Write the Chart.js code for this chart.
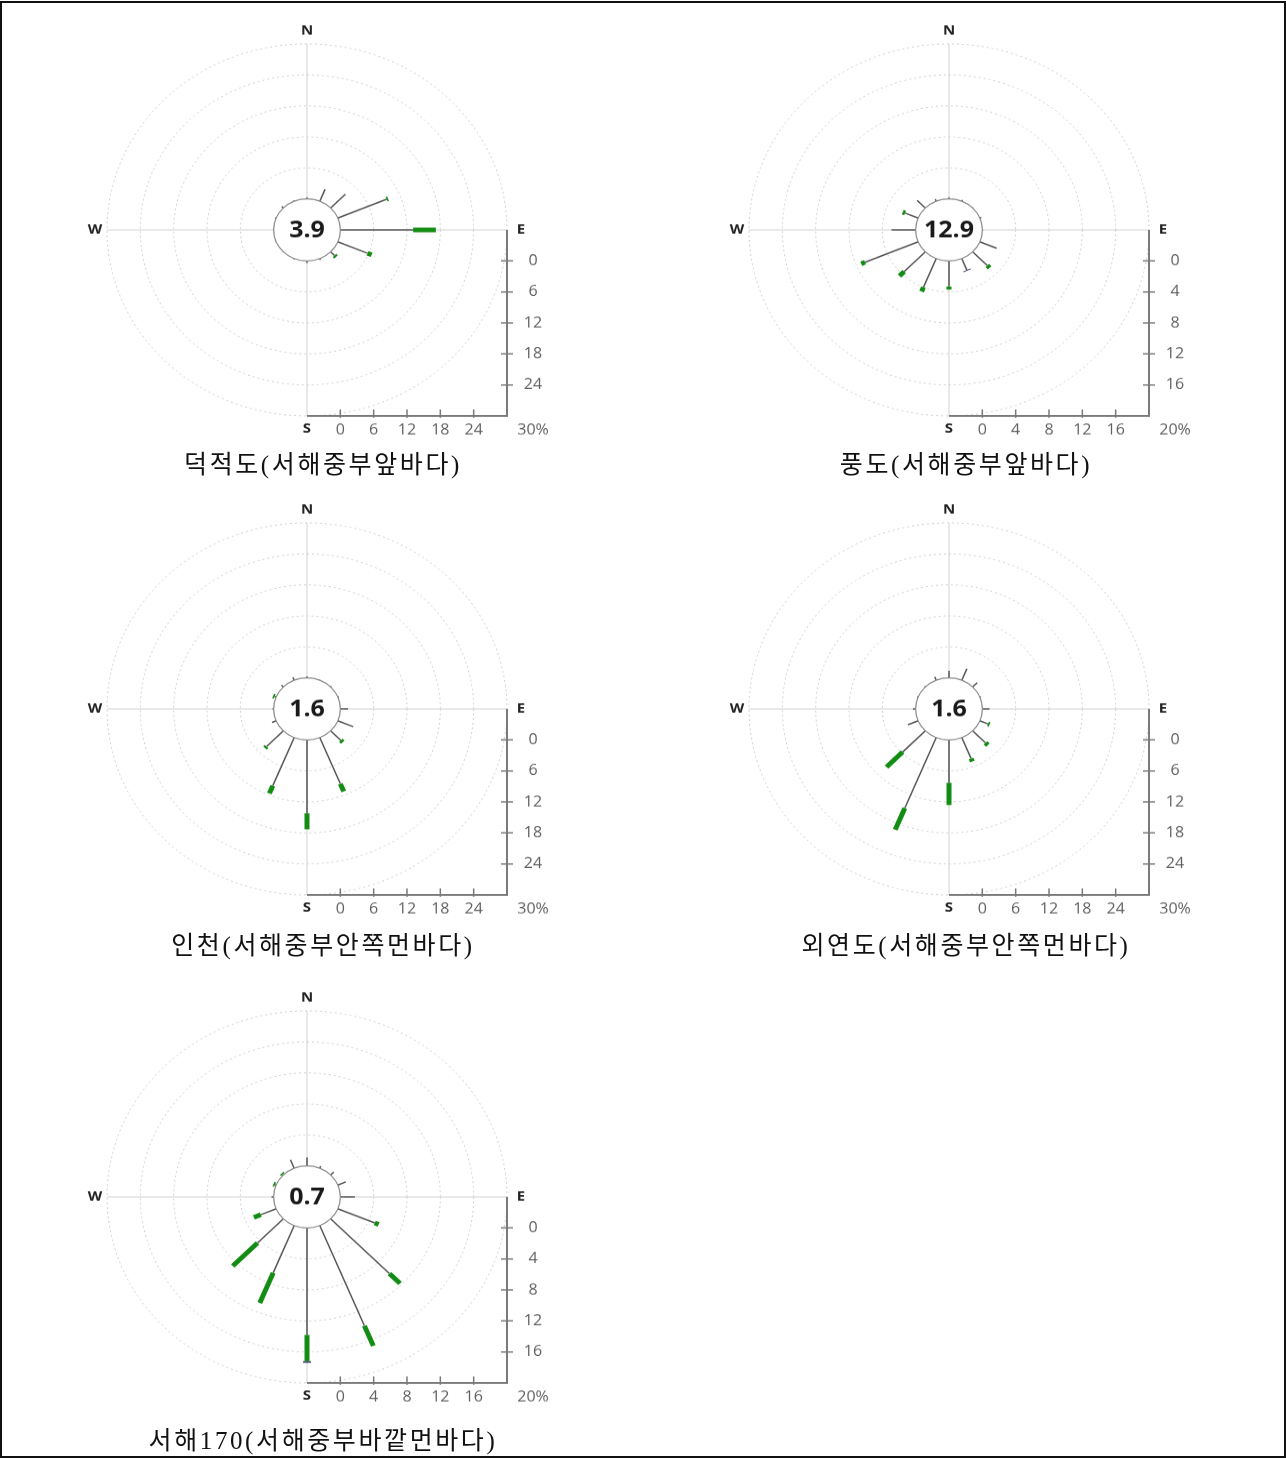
<!DOCTYPE html>
<html lang="ko">
<head>
<meta charset="utf-8">
<title>바람장미</title>
<script src="https://cdn.jsdelivr.net/npm/chart.js@4.4.1/dist/chart.umd.min.js"></script>
<style>
  html, body { margin: 0; padding: 0; background: #fff; }
  body { width: 1286px; height: 1459px; position: relative; overflow: hidden; }
  .frame { position: absolute; left: 0; top: 1px; width: 1286px; height: 1457px; box-sizing: border-box; border: 2px solid #111; }
  .rose { position: absolute; width: 500px; height: 480px; transform: scaleY(0.93); transform-origin: 0 0; }
  .title { position: absolute; width: 500px; text-align: center; font-family: "Liberation Serif", "Noto Sans CJK KR", serif; font-size: 25px; letter-spacing: 2.6px; line-height: 30px; color: #111; }
</style>
</head>
<body>
<div class="frame"></div>

<div class="rose" style="left:77px; top:16px;"><canvas id="rose1" width="500" height="480"></canvas></div>
<div class="rose" style="left:719px; top:16px;"><canvas id="rose2" width="500" height="480"></canvas></div>
<div class="rose" style="left:77px; top:495px;"><canvas id="rose3" width="500" height="480"></canvas></div>
<div class="rose" style="left:719px; top:495px;"><canvas id="rose4" width="500" height="480"></canvas></div>
<div class="rose" style="left:77px; top:983px;"><canvas id="rose5" width="500" height="480"></canvas></div>

<div class="title" id="title1" style="left:73px; top:450px;"></div>
<div class="title" id="title2" style="left:716px; top:450px;"></div>
<div class="title" id="title3" style="left:73px; top:931px;"></div>
<div class="title" id="title4" style="left:716px; top:931px;"></div>
<div class="title" id="title5" style="left:73px; top:1426px;"></div>

<script>
Chart.defaults.animation = false;

// --- Data ---
const directions = ['N', 'NNE', 'NE', 'ENE', 'E', 'ESE', 'SE', 'SSE', 'S', 'SSW', 'SW', 'WSW', 'W', 'WNW', 'NW', 'NNW'];
const stationNames = ['덕적도(서해중부앞바다)', '풍도(서해중부앞바다)', '인천(서해중부안쪽먼바다)', '외연도(서해중부안쪽먼바다)', '서해170(서해중부바깥먼바다)'];
const calmValues = [3.9, 12.9, 1.6, 1.6, 0.7];
const axisMax = [30, 20, 30, 30, 20];
const axisStep = [6, 4, 6, 6, 4];

// frequency (%) per direction: weak wind (thin line), strong wind (green), strongest (cap)
const dukjeokWeak   = [0.3, 2.5, 3.8, 9.5, 13.1, 5.8, 1.0, 0.3, 0.4, 0.2, 0.1, 0.1, 0.1, 0.2, 0.4, 0.2];
const dukjeokStrong = [0, 0, 0, 0.3, 4.1, 0.8, 0.4, 0, 0, 0, 0, 0, 0, 0, 0, 0];
const dukjeokCap    = [0, 0, 0, 0, 0, 0, 0, 0, 0, 0, 0, 0, 0, 0, 0, 0];

const pungdoWeak   = [0.2, 0.2, 0.1, 0.2, 0.1, 2.2, 2.5, 1.6, 3.3, 4.0, 3.6, 6.9, 2.9, 1.7, 1.4, 0.3];
const pungdoStrong = [0, 0, 0, 0, 0, 0, 0.4, 0, 0.4, 0.6, 0.8, 0.5, 0, 0.3, 0, 0];
const pungdoCap    = [0, 0, 0, 0, 0, 0, 0, 0.1, 0, 0, 0, 0, 0, 0, 0, 0];

const incheonWeak   = [0.3, 0.1, 0.2, 0.2, 1.4, 3.0, 2.6, 9.7, 14.2, 10.1, 4.3, 0.8, 0.2, 0.3, 0.5, 0.6];
const incheonStrong = [0, 0, 0, 0, 0, 0, 0.5, 1.6, 3.1, 1.6, 0.4, 0, 0, 0.3, 0, 0];
const incheonCap    = [0, 0, 0, 0, 0, 0, 0, 0, 0, 0, 0, 0, 0, 0, 0, 0];

const oeyeondoWeak   = [1.4, 2.4, 1.2, 0.2, 1.3, 1.6, 3.3, 4.4, 8.3, 14.8, 5.8, 2.0, 0.5, 0.2, 0.2, 0.7];
const oeyeondoStrong = [0, 0, 0, 0, 0, 0.3, 0.6, 0.6, 4.3, 4.5, 4.1, 0, 0, 0, 0, 0];
const oeyeondoCap    = [0, 0, 0, 0, 0, 0, 0, 0, 0, 0, 0, 0, 0, 0, 0, 0];

const seohaeWeak   = [1.1, 0.3, 0.55, 1.05, 1.75, 4.8, 10.0, 14.0, 13.8, 6.6, 4.4, 2.0, 0.25, 0.15, 0.1, 1.2];
const seohaeStrong = [0, 0, 0, 0, 0, 0.5, 1.8, 2.8, 3.4, 4.2, 4.2, 0.9, 0, 0.2, 0.2, 0];
const seohaeCap    = [0, 0, 0, 0, 0, 0, 0, 0, 0.2, 0, 0, 0, 0, 0, 0, 0];

// --- Plugin: spokes, calm circle, L-shaped axes, compass letters ---
const rosePlugin = {
  id: 'rose',
  afterDatasetsDraw(chart, args, opts) {
    const ctx = chart.ctx;
    const r = chart.scales.r;
    const n = chart.data.labels.length;
    const cx = r.xCenter, cy = r.yCenter;
    const outer = r.drawingArea;

    ctx.save();
    ctx.lineCap = 'butt';

    // stacked spokes along each direction, starting at the calm circle (value 0)
    for (let i = 0; i < n; i++) {
      let start = 0;
      chart.data.datasets.forEach(ds => {
        const v = ds.data[i];
        if (!v) return;
        const p0 = r.getPointPositionForValue(i, start);
        const p1 = r.getPointPositionForValue(i, start + v);
        ctx.strokeStyle = ds.spokeColor;
        ctx.lineWidth = ds.spokeWidth;
        ctx.beginPath();
        ctx.moveTo(p0.x, p0.y);
        ctx.lineTo(p1.x, p1.y);
        ctx.stroke();
        start += v;
      });
    }

    // calm circle with calm percentage
    const rc = r.getDistanceFromCenterForValue(0);
    ctx.beginPath();
    ctx.arc(cx, cy, rc, 0, Math.PI * 2);
    ctx.fillStyle = '#fff';
    ctx.fill();
    ctx.strokeStyle = '#8a8a8a';
    ctx.lineWidth = 1.2;
    ctx.stroke();
    ctx.fillStyle = '#1a1a1a';
    ctx.font = 'bold 25px "Open Sans"';
    ctx.textAlign = 'center';
    ctx.textBaseline = 'middle';
    ctx.fillText(opts.calm.toFixed(1), cx, cy + 1);

    // L-shaped axis on the right / bottom
    const xR = cx + outer, yB = cy + outer;
    ctx.strokeStyle = '#7a7a7a';
    ctx.lineWidth = 2;
    ctx.beginPath();
    ctx.moveTo(xR, cy);
    ctx.lineTo(xR, yB);
    ctx.lineTo(cx, yB);
    ctx.stroke();

    ctx.font = '16px "Open Sans"';
    ctx.fillStyle = '#606060';
    ctx.lineWidth = 1.5;
    ctx.beginPath();
    r.ticks.forEach(t => {
      if (t.value < 0 || t.value >= r.max) return;
      const d = r.getDistanceFromCenterForValue(t.value);
      ctx.moveTo(xR - 6, cy + d);
      ctx.lineTo(xR + 6, cy + d);
      ctx.moveTo(cx + d, yB - 7);
      ctx.lineTo(cx + d, yB + 2);
      ctx.fillText(String(t.value), xR + 26, cy + d);
      ctx.fillText(String(t.value), cx + d, yB + 15);
    });
    ctx.stroke();
    ctx.fillText(r.max + '%', xR + 26, yB + 15);

    // compass letters
    ctx.font = 'bold 15px "Open Sans"';
    ctx.fillStyle = '#222';
    [0, 4, 8, 12].forEach(i => {
      const p = r.getPointPosition(i, outer + 14);
      ctx.fillText(chart.data.labels[i], p.x + (i === 12 ? 2 : 0), p.y);
    });

    ctx.restore();
  }
};

function drawRose(canvasId, idx, weak, strong, cap) {
  const step = axisStep[idx];
  const spoke = (label, data, color, width) => ({
    label: label,
    data: data,
    spokeColor: color,
    spokeWidth: width,
    showLine: false,
    fill: false,
    borderWidth: 0,
    pointRadius: 0,
    pointHoverRadius: 0
  });

  new Chart(document.getElementById(canvasId), {
    type: 'radar',
    data: {
      labels: directions,
      datasets: [
        spoke('약한 바람', weak, '#555', 1.5),
        spoke('강한 바람', strong, '#138c13', 5),
        spoke('매우 강한 바람', cap, '#2a3560', 8)
      ]
    },
    options: {
      responsive: false,
      devicePixelRatio: 1,
      layout: { padding: { left: 30, right: 70, top: 30, bottom: 50 } },
      scales: {
        r: {
          min: -step,
          max: axisMax[idx],
          ticks: { stepSize: step, display: false },
          grid: { circular: true, color: '#cdcdcd', lineWidth: 1 },
          border: { dash: [2, 3] },
          angleLines: {
            color: '#d2d2d2',
            lineWidth: ctx => (ctx.index % 4 === 0 ? 1 : 0)
          },
          pointLabels: { display: false }
        }
      },
      plugins: {
        legend: { display: false },
        tooltip: { enabled: false },
        rose: { calm: calmValues[idx] }
      }
    },
    plugins: [rosePlugin]
  });

  document.getElementById('title' + (idx + 1)).textContent = stationNames[idx];
}

drawRose('rose1', 0, dukjeokWeak, dukjeokStrong, dukjeokCap);
drawRose('rose2', 1, pungdoWeak, pungdoStrong, pungdoCap);
drawRose('rose3', 2, incheonWeak, incheonStrong, incheonCap);
drawRose('rose4', 3, oeyeondoWeak, oeyeondoStrong, oeyeondoCap);
drawRose('rose5', 4, seohaeWeak, seohaeStrong, seohaeCap);
</script>
</body>
</html>
